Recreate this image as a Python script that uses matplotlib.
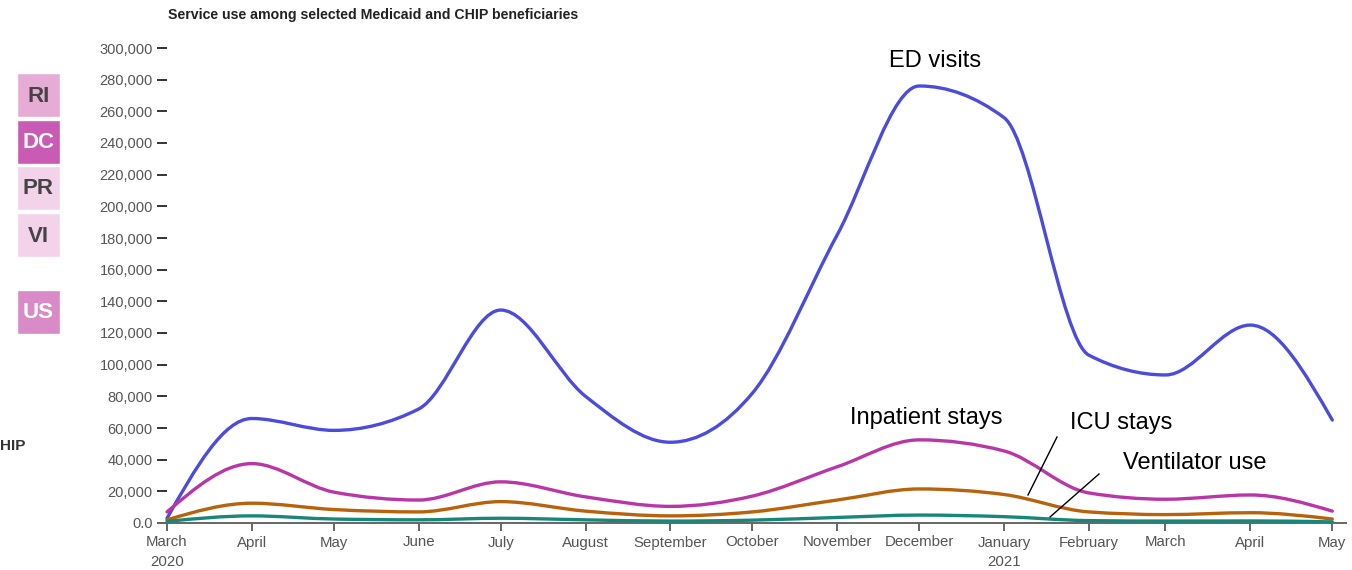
import matplotlib
matplotlib.use("Agg")
import matplotlib.pyplot as plt
import matplotlib.dates as mdates
from matplotlib.path import Path
from matplotlib.patches import PathPatch, Rectangle
from matplotlib.ticker import FuncFormatter
import numpy as np
import datetime as dt

plt.rcParams['font.family'] = ['Liberation Sans', 'DejaVu Sans']

# monthly values, March 2020 .. May 2021
months = [dt.date(2020, m, 1) for m in range(3, 13)] + [dt.date(2021, m, 1) for m in range(1, 6)]
month_labels = ["March\n2020", "April", "May", "June", "July", "August", "September",
                "October", "November", "December", "January\n2021", "February",
                "March", "April", "May"]

ed_visits = [3000, 66000, 58500, 72000, 134500, 80000, 51000, 82000,
             182000, 276000, 256000, 106000, 93500, 125000, 65000]
inpatient = [7000, 37500, 19500, 14500, 26000, 16500, 10500, 17000,
             35500, 52500, 45500, 19000, 15000, 17700, 7500]
icu = [2000, 12500, 8500, 7000, 13500, 7500, 4500, 7000,
       14500, 21500, 18000, 7000, 5300, 6500, 2500]
ventilator = [1000, 4500, 2500, 2000, 3000, 2000, 1200, 1800,
              3500, 5000, 4000, 1500, 1200, 1300, 700]

series = [
    (ed_visits, "#4b4bdc"),
    (inpatient, "#b936a6"),
    (icu, "#b8620b"),
    (ventilator, "#17877a"),
]

states = ["RI", "DC", "PR", "VI", "US"]
state_colors = ["#e6acd6", "#c95bb5", "#f3d3ea", "#f3d3ea", "#d98bc7"]
state_text = ["#444444", "white", "#444444", "#444444", "white"]


def monotone_path(x, y):
    # cubic bezier path, same as d3.curveMonotoneX
    x = np.asarray(x, float)
    y = np.asarray(y, float)
    n = len(x)
    h = np.diff(x)
    s = np.diff(y) / h
    t = np.zeros(n)
    for i in range(1, n - 1):
        p = (s[i - 1] * h[i] + s[i] * h[i - 1]) / (h[i - 1] + h[i])
        t[i] = (np.sign(s[i - 1]) + np.sign(s[i])) * min(abs(s[i - 1]), abs(s[i]), 0.5 * abs(p))
    t[0] = (3 * s[0] - t[1]) / 2
    t[-1] = (3 * s[-1] - t[-2]) / 2
    verts = [(x[0], y[0])]
    codes = [Path.MOVETO]
    for i in range(n - 1):
        dx = h[i] / 3
        verts += [(x[i] + dx, y[i] + dx * t[i]), (x[i + 1] - dx, y[i + 1] - dx * t[i + 1]), (x[i + 1], y[i + 1])]
        codes += [Path.CURVE4] * 3
    return Path(verts, codes)


fig = plt.figure(figsize=(13.52, 5.70), dpi=100)
ax = fig.add_axes([158 / 1352, 47 / 570, 1188 / 1352, 475 / 570])

xd = mdates.date2num(months)
for vals, col in series:
    ax.add_patch(PathPatch(monotone_path(xd, vals), facecolor="none", edgecolor=col,
                           lw=2.4, capstyle="round", joinstyle="round", zorder=3))

ax.set_xlim(xd[0] - 3.3, xd[-1] + 5.0)
ax.set_ylim(0, 300000)
ax.set_xticks(xd)
ax.set_xticklabels(month_labels, linespacing=1.5)
ax.set_yticks(np.arange(0, 300001, 20000))
ax.yaxis.set_major_formatter(FuncFormatter(lambda v, p: "0.0" if v == 0 else f"{int(v):,}"))

for side in ["top", "right"]:
    ax.spines[side].set_visible(False)
# y ticks sit at the first month, the x spine runs a bit further left
ax.spines["left"].set_position(("data", xd[0]))
ax.spines["left"].set_color("none")
ax.spines["bottom"].set_color("#666666")
ax.spines["bottom"].set_linewidth(1.4)
ax.tick_params(axis="x", length=6, width=1.4, color="#666666", labelcolor="#555555",
               labelsize=10.8, pad=3)
ax.tick_params(axis="y", length=7.2, width=1.4, color="#333333", labelcolor="#555555",
               labelsize=10.5, pad=3)
ax.patch.set_visible(False)

# annotations
ann = dict(fontsize=17, color="black", ha="center", va="center")
fig.text(935 / 1352, 1 - 61 / 570, "ED visits", **ann)
fig.text(926 / 1352, 1 - 418 / 570, "Inpatient stays", **ann)
fig.text(1121 / 1352, 1 - 423 / 570, "ICU stays", **ann)
fig.text(1195 / 1352, 1 - 463 / 570, "Ventilator use", **ann)
fig.add_artist(plt.Line2D([1057 / 1352, 1028 / 1352], [1 - 437 / 570, 1 - 495 / 570],
                          color="black", lw=1))
fig.add_artist(plt.Line2D([1099 / 1352, 1050 / 1352], [1 - 474 / 570, 1 - 517 / 570],
                          color="black", lw=1))

fig.text(168 / 1352, 1 - 15 / 570, "Service use among selected Medicaid and CHIP beneficiaries",
         fontsize=10.2, fontweight="bold", color="#222222", ha="left", va="center")

# state selector boxes
box_top = [73, 120, 166, 213, 290]
for name, top, fc, tc in zip(states, box_top, state_colors, state_text):
    fig.add_artist(Rectangle((17 / 1352, 1 - (top + 44) / 570), 43 / 1352, 44 / 570,
                             transform=fig.transFigure, facecolor=fc, edgecolor="white", lw=1))
    fig.text(38.5 / 1352, 1 - (top + 23) / 570, name, fontsize=16, fontweight="bold",
             color=tc, ha="center", va="center")

fig.text(0, 1 - 446 / 570, "HIP", fontsize=11, fontweight="bold", color="#333333",
         ha="left", va="center")

fig.savefig("out.png", dpi=100)
